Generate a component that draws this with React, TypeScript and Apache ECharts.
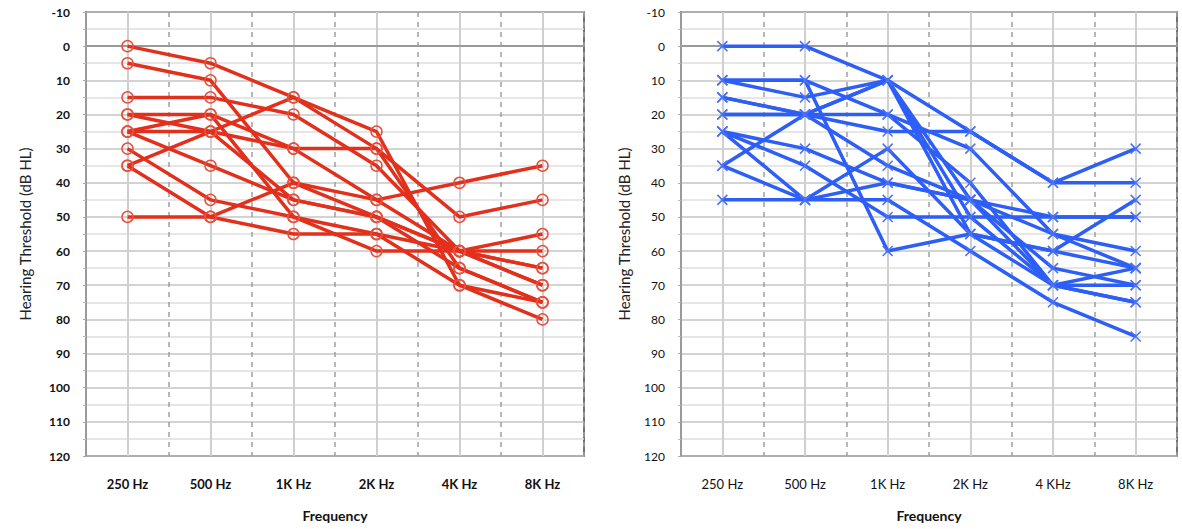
import React, { useEffect, useRef } from "react";
import * as echarts from "echarts";

const categoriesLeft = ["250 Hz", "500 Hz", "1K Hz", "2K Hz", "4K Hz", "8K Hz"];
const categoriesRight = ["250 Hz", "500 Hz", "1K Hz", "2K Hz", "4 KHz", "8K Hz"];

// Left panel (red, circles) – hearing thresholds per subject
const red01 = [0, 5, 15, 30, 65, 75];
const red02 = [5, 10, 40, 50, 60, 70];
const red03 = [15, 15, 20, 35, 60, 65];
const red04 = [20, 20, 30, 30, 50, 45];
const red05 = [20, 25, 45, 50, 60, 55];
const red06 = [25, 25, 30, 45, 60, 70];
const red07 = [25, 35, 45, 50, 65, 75];
const red08 = [30, 45, 50, 60, 60, 60];
const red09 = [35, 25, 15, 25, 70, 75];
const red10 = [35, 50, 55, 55, 60, 65];
const red11 = [50, 50, 40, 45, 40, 35];
const red12 = [25, 20, 50, 55, 70, 80];
const redSeries = [red01, red02, red03, red04, red05, red06, red07, red08, red09, red10, red11, red12];

// Right panel (blue, crosses)
const blue01 = [0, 0, 10, 25, 40, 30];
const blue02 = [10, 10, 20, 30, 55, 65];
const blue03 = [10, 15, 10, 50, 70, 75];
const blue04 = [15, 20, 10, 55, 70, 65];
const blue05 = [15, 20, 25, 25, 40, 40];
const blue06 = [20, 20, 35, 45, 65, 70];
const blue07 = [25, 30, 40, 45, 50, 50];
const blue08 = [25, 35, 50, 50, 50, 50];
const blue09 = [10, 10, 60, 55, 60, 45];
const blue10 = [35, 20, 20, 40, 70, 75];
const blue11 = [35, 45, 40, 45, 55, 60];
const blue12 = [45, 45, 30, 55, 60, 65];
const blue13 = [25, 45, 45, 60, 75, 85];
const blue14 = [20, 20, 10, 45, 70, 70];
const blueSeries = [blue01, blue02, blue03, blue04, blue05, blue06, blue07, blue08, blue09, blue10, blue11, blue12, blue13, blue14];

const yMin = -10;
const yMax = 120;
const yStep = 10;

const RED = "#e2301c";
const BLUE = "#2d5ef5";
const FONT = "Lato, 'Open Sans', sans-serif";

export default function App() {
  const ref = useRef<HTMLDivElement>(null);
  useEffect(() => {
    if (!ref.current) return;
    const chart = echarts.init(ref.current, null, { renderer: "svg" });

    const makeY = (gridIndex: number, bold: boolean, gap: number) => ({
      type: "value",
      gridIndex,
      inverse: true,
      min: yMin,
      max: yMax,
      interval: yStep,
      name: "Hearing Threshold (dB HL)",
      nameLocation: "middle",
      nameGap: gap,
      nameRotate: 90,
      nameTextStyle: { fontFamily: FONT, fontSize: 15, color: "#222" },
      axisLine: { show: true, lineStyle: { color: "#9a9a9a", width: 2 } },
      axisTick: { show: true, length: 3, inside: false, lineStyle: { color: "#aaa" } },
      minorTick: { show: true, splitNumber: 2, length: 3, lineStyle: { color: "#bbb" } },
      axisLabel: {
        fontFamily: FONT,
        fontSize: 12,
        fontWeight: bold ? "bold" : "normal",
        color: "#111",
        margin: 16,
      },
      splitLine: { show: true, lineStyle: { color: "#c4c4c4", width: 1.5 } },
      minorSplitLine: { show: true, lineStyle: { color: "#dedede", width: 1.5 } },
    });

    const makeXCat = (gridIndex: number, cats: string[], bold: boolean) => ({
      type: "category",
      gridIndex,
      data: cats,
      boundaryGap: true,
      name: "Frequency",
      nameLocation: "middle",
      nameGap: 52,
      nameTextStyle: { fontFamily: FONT, fontSize: 14, fontWeight: "bold", color: "#111" },
      axisLine: { show: true, lineStyle: { color: "#9a9a9a", width: 2 } },
      axisTick: { show: false },
      axisLabel: {
        fontFamily: FONT,
        fontSize: 13,
        fontWeight: bold ? "bold" : "normal",
        color: "#111",
        margin: 21,
      },
      splitLine: { show: false },
    });

    const makeXVal = (gridIndex: number) => ({
      type: "value",
      gridIndex,
      min: 0,
      max: 6,
      interval: 1,
      position: "bottom",
      axisLine: { show: false },
      axisTick: { show: false },
      axisLabel: { show: false },
      minorTick: { show: false, splitNumber: 2 },
      splitLine: { show: true, lineStyle: { color: "#a0a0a0", width: 1.5, type: [5, 5] } },
      minorSplitLine: { show: true, lineStyle: { color: "#cfcfcf", width: 2 } },
    });

    const series: any[] = [];
    redSeries.forEach((d, i) => {
      series.push({
        type: "line",
        name: "L" + (i + 1),
        xAxisIndex: 0,
        yAxisIndex: 0,
        data: d,
        symbol: "circle",
        symbolSize: 11,
        lineStyle: { color: RED, width: 3.5 },
        itemStyle: { color: "rgba(0,0,0,0)", borderColor: "#e8503e", borderWidth: 1.5 },
        z: 3,
      });
    });
    blueSeries.forEach((d, i) => {
      series.push({
        type: "line",
        name: "R" + (i + 1),
        xAxisIndex: 2,
        yAxisIndex: 1,
        data: d,
        symbol: "path://M0,0L10,10M0,10L10,0",
        symbolSize: 10,
        lineStyle: { color: BLUE, width: 3.5 },
        itemStyle: { color: "rgba(0,0,0,0)", borderColor: "#4a72f5", borderWidth: 1.5 },
        z: 3,
      });
    });

    chart.setOption({
      animation: false,
      backgroundColor: "#ffffff",
      grid: [
        { left: 86, right: 598, top: 12, bottom: 73, show: true, borderColor: "#444", borderWidth: 1.5, backgroundColor: "transparent" },
        { left: 681, right: 5, top: 12, bottom: 73, show: true, borderColor: "#444", borderWidth: 1.5, backgroundColor: "transparent" },
      ],
      xAxis: [
        makeXCat(0, categoriesLeft, true),
        makeXVal(0),
        makeXCat(1, categoriesRight, false),
        makeXVal(1),
      ],
      yAxis: [makeY(0, true, 54), makeY(1, false, 50)],
      series,
    });

    return () => chart.dispose();
  }, []);

  return (
    <div
      ref={ref}
      style={{ position: "fixed", left: 0, top: 0, width: 1182, height: 529, background: "#fff" }}
    />
  );
}
